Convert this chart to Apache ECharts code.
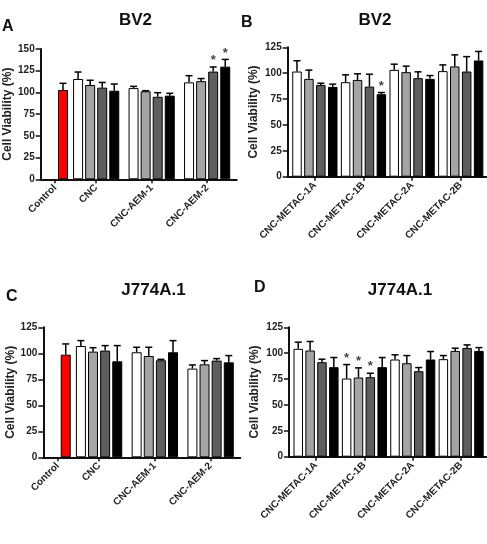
<!DOCTYPE html>
<html>
<head>
<meta charset="utf-8">
<script src="https://cdn.jsdelivr.net/npm/echarts@6/dist/echarts.min.js"></script>
<style>
  html, body { margin: 0; padding: 0; background: #fff; }
  #main { width: 487px; height: 544px; }
</style>
</head>
<body>
<div id="main"></div>
<script>
// group names on the x axes
var aemGroups = ['Control', 'CNC', 'CNC-AEM-1', 'CNC-AEM-2'];
var metacGroups = ['CNC-METAC-1A', 'CNC-METAC-1B', 'CNC-METAC-2A', 'CNC-METAC-2B'];

// A - BV2, AEM
var bv2ControlMean = 102.8;
var bv2ControlErr = 7.7;
var bv2AemMeans = [[115.5, 108.5, 105.5, 102], [105, 101.3, 95, 96.3], [111.6, 113, 124, 129.7]];
var bv2AemErrs = [[8, 5.5, 6, 7.7], [2, 0.7, 4.7, 2.7], [7.7, 3, 5.3, 8.3]];
var bv2AemSig = [[2, 2], [2, 3]];

// B - BV2, METAC
var bv2MetacMeans = [[101.6, 94.5, 88.7, 86.8], [91.3, 93.5, 87, 79.7], [103.2, 101, 95.2, 94.5], [102, 106.5, 101.6, 112.3]];
var bv2MetacErrs = [[10.4, 8.5, 1.6, 2.6], [7.1, 5.9, 12, 1.6], [5.5, 5.8, 6.1, 3.2], [6, 11.2, 14.4, 8.7]];
var bv2MetacSig = [[1, 3]];

// C - J774A.1, AEM
var jControlMean = 98.7;
var jControlErr = 10.3;
var jAemMeans = [[107, 101.6, 102.6, 92.3], [101, 97.4, 93.3, 101], [85.3, 89.4, 93, 91.3]];
var jAemErrs = [[5.2, 3.8, 4.8, 15.1], [4.8, 8.4, 0.9, 11.2], [3.5, 3.6, 1.9, 6.5]];
var jAemSig = [];

// D - J774A.1, METAC
var jMetacMeans = [[104.2, 102.6, 91.3, 86.5], [75.5, 76.5, 76.8, 86.5], [93.9, 90.3, 82.6, 93.9], [94.2, 102.2, 105.1, 102.2]];
var jMetacErrs = [[6.4, 8.7, 2.9, 9.3], [13.5, 9.3, 3.8, 9.3], [4.5, 7.4, 3.5, 7.7], [3.5, 2.6, 2.9, 3.2]];
var jMetacSig = [[1, 0], [1, 1], [1, 2]];

var concColors = ['#ffffff', '#a4a4a4', '#5e5e5e', '#000000'];
var controlColor = '#ff0000';
var FONT = '"Liberation Sans", Arial, sans-serif';

// slot layout along the x axis (1 unit = one bar)
var layoutAem = { ctrlBar: 1.85, ctrlTick: 1.2, start: 3.1, step: 4.6, max: 16.25 };
var layoutMetac = { start: 0.78, step: 4.08, max: 16.7 };

var panels = [
  { grid: { left: 40.7, top: 49, width: 196, height: 130.3 }, yMax: 150, nameGap: 26,
    groups: aemGroups, ctrl: [bv2ControlMean, bv2ControlErr], means: bv2AemMeans, errs: bv2AemErrs,
    sig: bv2AemSig, lay: layoutAem, barWidth: 10 },
  { grid: { left: 287.7, top: 47.3, width: 199, height: 129.4 }, yMax: 125, nameGap: 28,
    groups: metacGroups, ctrl: null, means: bv2MetacMeans, errs: bv2MetacErrs,
    sig: bv2MetacSig, lay: layoutMetac, barWidth: 9.5 },
  { grid: { left: 43.3, top: 327.3, width: 197, height: 130 }, yMax: 125, nameGap: 22,
    groups: aemGroups, ctrl: [jControlMean, jControlErr], means: jAemMeans, errs: jAemErrs,
    sig: jAemSig, lay: layoutAem, barWidth: 10 },
  { grid: { left: 289, top: 327.3, width: 198, height: 129.4 }, yMax: 125, nameGap: 28,
    groups: metacGroups, ctrl: null, means: jMetacMeans, errs: jMetacErrs,
    sig: jMetacSig, lay: layoutMetac, barWidth: 9.5 }
];

function renderErr(params, api) {
  var x = api.value(0), m = api.value(1), u = api.value(2);
  var p0 = api.coord([x, m]);
  var p1 = api.coord([x, u]);
  var st = { stroke: '#000', lineWidth: 1.5 };
  return {
    type: 'group',
    children: [
      { type: 'line', shape: { x1: p0[0], y1: p0[1], x2: p1[0], y2: p1[1] }, style: st },
      { type: 'line', shape: { x1: p1[0] - 3.5, y1: p1[1], x2: p1[0] + 3.5, y2: p1[1] }, style: st }
    ]
  };
}

var grids = [], xAxes = [], yAxes = [], series = [];

panels.forEach(function (p, k) {
  var lay = p.lay;
  var offset = p.ctrl ? 1 : 0;
  var labelPos = [], labelNames = [];
  if (p.ctrl) { labelPos.push(lay.ctrlTick); labelNames.push(p.groups[0]); }

  var bars = [], errs = [], stars = [];
  if (p.ctrl) {
    bars.push({ value: [lay.ctrlBar, p.ctrl[0]], itemStyle: { color: controlColor } });
    errs.push([lay.ctrlBar, p.ctrl[0], p.ctrl[0] + p.ctrl[1]]);
  }
  p.means.forEach(function (row, g) {
    var s = lay.start + g * lay.step;
    labelPos.push(s + 1.5);
    labelNames.push(p.groups[g + offset]);
    row.forEach(function (v, i) {
      bars.push({ value: [s + i, v], itemStyle: { color: concColors[i] } });
      errs.push([s + i, v, v + p.errs[g][i]]);
    });
  });
  p.sig.forEach(function (sg) {
    var g = sg[0], i = sg[1];
    stars.push([lay.start + g * lay.step + i, p.means[g][i] + p.errs[g][i]]);
  });

  grids.push(p.grid);
  xAxes.push({
    type: 'value', gridIndex: k, min: 0, max: lay.max,
    axisLine: { lineStyle: { color: '#111', width: 2 } },
    axisTick: { show: true, customValues: labelPos, length: 4, lineStyle: { color: '#111', width: 1.5 } },
    axisLabel: {
      customValues: labelPos, rotate: 45, margin: 7,
      fontFamily: FONT, fontWeight: 'bold', fontSize: 10, color: '#222',
      formatter: function (v) {
        for (var j = 0; j < labelPos.length; j++) {
          if (Math.abs(labelPos[j] - v) < 1e-6) return labelNames[j];
        }
        return '';
      }
    },
    splitLine: { show: false }
  });
  yAxes.push({
    type: 'value', gridIndex: k, min: 0, max: p.yMax, interval: 25,
    name: 'Cell Viability (%)', nameLocation: 'middle', nameGap: p.nameGap,
    nameTextStyle: { fontFamily: FONT, fontWeight: 'bold', fontSize: 12, color: '#222' },
    axisLine: { show: true, lineStyle: { color: '#111', width: 2 } },
    axisTick: { show: true, length: 5, lineStyle: { color: '#111', width: 1.5 } },
    axisLabel: { margin: 6, fontFamily: FONT, fontWeight: 'bold', fontSize: 10, color: '#222' },
    splitLine: { show: false }
  });

  series.push({
    type: 'bar', xAxisIndex: k, yAxisIndex: k, barWidth: p.barWidth,
    itemStyle: { borderColor: '#000', borderWidth: 1 },
    data: bars, animation: false
  });
  series.push({
    type: 'custom', xAxisIndex: k, yAxisIndex: k, renderItem: renderErr,
    encode: { x: 0, y: [1, 2] }, data: errs, z: 5, animation: false
  });
  series.push({
    type: 'scatter', xAxisIndex: k, yAxisIndex: k, symbolSize: 0, data: stars, z: 6,
    label: { show: true, position: 'top', distance: 0, formatter: '*',
      fontFamily: FONT, fontWeight: 'bold', fontSize: 13, color: '#111' },
    animation: false
  });
});

function txt(s, x, y, size, align) {
  return { type: 'text', x: x, y: y,
    style: { text: s, font: 'bold ' + size + 'px ' + FONT, fill: '#111', align: align, verticalAlign: 'top' } };
}

var myChart = echarts.init(document.getElementById('main'));
myChart.setOption({
  backgroundColor: '#fff',
  animation: false,
  graphic: [
    txt('A', 2, 19, 16, 'left'),
    txt('BV2', 135.5, 12, 17, 'center'),
    txt('B', 241, 15, 16, 'left'),
    txt('BV2', 375, 12, 17, 'center'),
    txt('C', 6, 289, 16, 'left'),
    txt('J774A.1', 153.5, 282, 17, 'center'),
    txt('D', 254, 280, 16, 'left'),
    txt('J774A.1', 400, 282, 17, 'center')
  ],
  grid: grids,
  xAxis: xAxes,
  yAxis: yAxes,
  series: series
});
</script>
</body>
</html>
